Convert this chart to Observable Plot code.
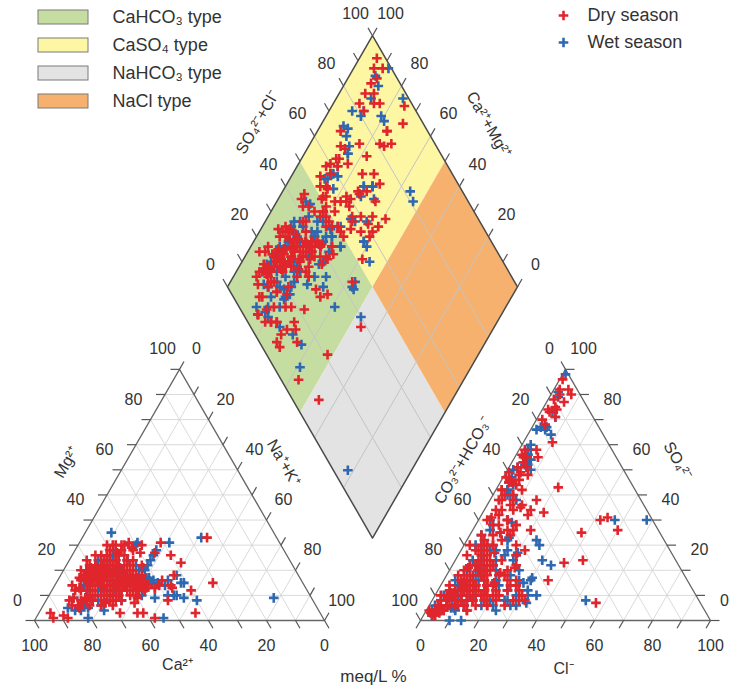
<!DOCTYPE html>
<html><head><meta charset="utf-8">
<script src="https://cdn.jsdelivr.net/npm/d3@7"></script>
<script src="https://cdn.jsdelivr.net/npm/@observablehq/plot@0.6"></script>
<style>body{margin:0;background:#fff}</style>
</head><body><div id="chart"></div>
<script>
// ---------- DATA (meq/L %), each sample: [Ca2+, Mg2+, Cl-, SO4 2-] ----------
// Na++K+ = 100 - Ca - Mg ; CO3 2- + HCO3- = 100 - Cl - SO4
const drySamples = [
[80,14,1,96],[76,17,2,92],[72,18,7,90],[70,20,3,90],[78,13,2,88],[68,20,4,85],[65,19,5,84],[70,21,2,84],
[64,22,6,81],[60,16,3,83],[58,17,5,92],[45,27,6,87],[60,14,42,40],[57,15,44,41],[62,14,50,36],[70,18,4,78],
[74,17,2,80],[74,18,2,68],[70,19,4,63],[72,17,1,59],[68,18,6,56],[57,30,3,55],[52,31,8,58],[69,18,2,66],
[70,18,5,58],[72,18,1,57],[73,17,4,50],[68,17,2,52],[66,19,3,48],[64,19,6,68],[58,18,10,71],[62,16,21,53],
[60,15,16,44],[57,16,21,43],[60,16,4,65],[41,31,8,65],[54,14,38,35],[56,15,6,61],[46,13,44,24],[40,26,3,65],
[43,18,38,23],[48,16,9,52],[38,23,4,55],[46,14,57,7],[72,16,4,48],[70,16,2,52],[70,22,3,40],[68,22,8,34],
[66,22,6,38],[62,24,10,30],[60,22,4,44],[58,22,12,36],[56,22,14,34],[64,26,5,28],[66,26,2,30],[70,24,3,26],
[72,20,6,22],[62,26,9,22],[60,24,12,18],[56,26,14,20],[54,24,18,18],[52,22,20,18],[74,20,4,18],[72,18,5,20],
[68,20,8,16],[66,18,10,14],[62,20,12,14],[60,18,14,12],[58,16,16,14],[76,16,3,14],[74,14,4,12],[70,16,6,10],
[66,16,8,8],[64,14,9,10],[62,12,10,8],[80,12,2,10],[82,5,3,6],[74,12,4,6],[70,12,5,4],[66,14,6,6],
[76,8,1,4],[78,6,2,3],[84,8,4,10],[76,8,3,2],[72,8,4,2],[68,10,5,3],[93,3,6,12],[93,1,8,12],
[89,2,6,10],[69,3,4,2],[62,10,5,4],[58,12,3,3],[58,13,6,6],[52,13,7,6],[24,33,3,3],[40,12,8,13],
[31,15,4,5],[43,3,30,8],[58,1,36,16],[50,8,22,22],[56,13,10,44],[52,13,12,45],[55,13,6,54],[50,14,16,48],
[60,14,5,59],[66,19,10,35],[62,16,14,38],[62,16,8,48],[61,16,3,56],[57,14,7,50],[68,19,3,61],[72,20,4,41],
[66,21,12,27],[67,20,8,26],[70,18,6,21],[72,16,7,15],[68,17,8,14],[70,15,6,11],[74,15,5,11],[78,12,3,8],
[62,20,10,22],[62,19,14,22],[60,18,16,24],[59,18,12,22],[56,16,18,19],[56,15,20,20],[55,15,22,21],[70,16,5,9],
[66,16,6,10],[64,15,9,12],[63,3,16,14],[61,3,18,15],[88,1,10,8],
[70,20,10,12],[66,22,12,10],[64,24,14,8],[62,26,8,14],[72,18,12,6],[68,22,6,18],[60,28,10,16],[58,30,12,14],
[64,20,16,10],[62,22,18,8],[60,24,20,6],[74,16,14,4],[70,14,16,6],[68,16,18,10],[66,18,20,12],[64,20,22,10],
[72,14,10,20],[70,12,12,24],[68,14,8,28],[66,12,6,32],[76,10,8,16],[78,8,10,12],[80,8,12,8],[82,6,14,4],
[74,10,18,8],[72,10,20,6],[70,10,22,10],[68,12,24,12],[66,10,26,14],[64,12,28,8],[62,14,25,16],[60,12,30,10],
[76,12,16,10],[74,18,8,22],[72,16,9,18],[68,18,12,20],[64,18,10,26],[62,18,8,30],[66,20,14,18],[70,20,16,14],
[58,26,16,12],[56,28,18,10],[54,30,14,16],[52,28,12,20],[56,24,10,24],[60,20,6,30],[62,22,4,34],[58,20,8,38],
[56,20,6,42],[54,18,12,32],[84,6,10,14],[80,7,12,12],[76,8,14,10],[72,7,16,12],[70,6,18,14],[66,8,20,10],
[62,7,22,8],[60,9,12,10],[82,9,6,16],[78,9,8,18],[74,6,10,20],[68,8,14,16],[60,30,8,24],[55,30,10,20],
[52,29,12,18],[48,30,14,22],[50,27,10,30],[58,27,6,28],
[66,19,10,40],[64,20,14,38],[62,18,8,46],[60,16,12,46],[58,16,16,42],[56,14,20,36],[54,16,14,36],[58,14,10,40],
[62,20,18,30],[64,18,6,44],[60,22,20,26],[56,18,22,28],[70,8,4,4],[66,10,6,4],[62,14,10,6],[60,10,8,8],
[56,12,9,6],[64,12,4,6],[64,16,24,14],[62,14,28,12],[66,14,26,6],[60,16,32,8],[68,12,22,16]
];
const wetSamples = [
[66,22,1,98],[72,19,2,91],[70,18,3,89],[68,20,4,83],[70,18,5,77],[60,21,6,81],[72,20,2,76],[68,20,3,77],
[62,15,58,40],[60,19,47,40],[72,18,3,70],[72,20,4,68],[68,18,4,66],[66,19,8,60],[70,17,3,55],[68,18,2,60],
[66,20,5,54],[56,17,4,63],[54,16,6,64],[41,15,8,74],[44,9,5,76],[55,16,4,52],[50,15,53,8],[48,14,26,30],
[46,10,30,24],[47,10,35,10],[55,1,31,12],[40,8,33,7],[26,33,25,8],[38,31,30,17],[13,9,3,2],[68,20,5,50],
[64,20,3,57],[64,19,6,50],[66,22,10,35],[57,16,12,39],[60,16,14,33],[64,22,8,22],[56,35,5,10],[52,21,16,20],
[42,15,28,15],[46,16,24,32],[42,18,34,22],[53,16,9,48],[53,17,4,66],[56,16,3,61],[51,16,5,63],[79,5,3,2],
[66,8,6,4],[58,10,8,5],[54,9,9,5],[49,10,5,4],[52,15,18,15],[56,17,12,16],[70,13,5,8],[64,14,7,10],
[62,15,8,12],[66,19,6,62],[70,19,3,68],[68,19,4,52],[57,16,5,62],[53,17,6,64],[52,17,20,27],[72,18,4,30],
[68,20,6,24],[64,22,10,20],[60,22,14,22],[62,18,12,14],[70,14,6,12],[66,14,9,10],[74,14,4,16],[76,12,3,10],
[74,8,2,6],[82,4,2,4],[82,9,8,10],[56,24,16,26],[54,20,20,26],[60,26,6,36],[66,24,4,40],[58,28,8,30],
[49,31,10,28],[74,4,10,8],[81,1,12,6],[64,16,4,4],[70,12,10,0],[66,12,14,0],
[76,10,12,8],[72,12,14,10],[70,8,16,12],[68,10,18,6],[74,6,20,8],[78,8,8,6],[80,6,10,4],[84,4,12,6],
[86,5,14,8],[62,24,12,18],[60,26,10,22],[64,24,16,12],[66,22,18,16],[58,26,20,14],[56,24,22,18],[54,22,24,20],
[52,20,26,16],[50,22,20,24],[60,18,24,12],[62,16,26,8],[64,14,22,6],[58,14,28,10],[56,12,30,6],[66,20,8,26],
[68,22,6,30],[70,18,4,34],[64,18,12,28],[62,20,6,38],[60,20,14,32],[58,16,10,40],[48,24,16,28],[46,26,14,24],
[44,28,12,20],[50,30,10,18],[74,16,6,20],[72,16,8,16],[70,16,10,14],[76,14,6,14],[68,14,12,10],[66,12,14,8],
[62,18,26,14],[60,14,30,16],[58,18,32,10],[64,14,28,6],[66,16,24,4]
];
const seasons = ["Dry season", "Wet season"];
const seasonColors = ["#e0262c", "#2e68b0"];
const regionNames = ["CaHCO₃ type", "CaSO₄ type", "NaHCO₃ type", "NaCl type"];
const regionColors = ["#c6dda2", "#fdf6a3", "#e3e3e3", "#f5b16d"];
// region extents in diamond coordinates [SO4+Cl from, to, Ca+Mg from, to]
const regionExtents = [[0,50,50,100],[50,100,50,100],[0,50,0,50],[50,100,0,50]];
const tickValues = [0,10,20,30,40,50,60,70,80,90,100];
const labelValues = [0,20,40,60,80,100];
const diamondGridValues = [20,40,60,80];

// ---------- LAYOUT ----------
const S = 290, H = S * Math.sqrt(3) / 2, R3 = Math.sqrt(3) / 2;
const CAT = [34, 620], AN = [420, 620], DIA = [372, 537.5];
const cat = (ca, mg) => { const nak = 100 - ca - mg; return [CAT[0] + S * (nak + mg / 2) / 100, CAT[1] - H * mg / 100]; };
const an = (cl, so4) => [AN[0] + S * (cl + so4 / 2) / 100, AN[1] - H * so4 / 100];
const dia = (s, c) => [DIA[0] + S / 2 * (s - c) / 100, DIA[1] - H * (s + c) / 100];
const seg = (a, b) => ({x1: a[0], y1: a[1], x2: b[0], y2: b[1]});
const TL = 9;
const tickSeg = (p, d) => seg(p, [p[0] + d[0] * TL, p[1] + d[1] * TL]);
const lab = (p, off, v) => ({x: p[0] + off[0], y: p[1] + off[1], text: String(v)});

// points
const points = [];
[[1, wetSamples], [0, drySamples]].forEach(([k, arr]) => {
  for (const [ca, mg, cl, so4] of arr) {
    for (const [x, y] of [cat(ca, mg), an(cl, so4), dia(cl + so4, ca + mg)]) points.push({x, y, color: seasonColors[k]});
  }
});

// diamond regions
const regionPolys = regionExtents.map(([s0, s1, c0, c1]) => [dia(s0, c0), dia(s1, c0), dia(s1, c1), dia(s0, c1), dia(s0, c0)].map(([x, y]) => ({x, y})));

// grids
const triGrid = [];
for (const v of tickValues.slice(1, -1)) {
  triGrid.push(seg(cat(100 - v, v), cat(0, v)));
  triGrid.push(seg(cat(100 - v, 0), cat(0, 100 - v)));
  triGrid.push(seg(cat(v, 0), cat(v, 100 - v)));
  triGrid.push(seg(an(0, v), an(100 - v, v)));
  triGrid.push(seg(an(v, 0), an(v, 100 - v)));
  triGrid.push(seg(an(100 - v, 0), an(0, 100 - v)));
}
const diaGrid = [];
for (const v of diamondGridValues) { diaGrid.push(seg(dia(v, 0), dia(v, 100))); diaGrid.push(seg(dia(0, v), dia(100, v))); }

// outlines
const toXY = arr => arr.map(([x, y]) => ({x, y}));
const catOutline = toXY([cat(100, 0), cat(0, 0), cat(0, 100), cat(100, 0)]);
const anOutline = toXY([an(0, 0), an(100, 0), an(0, 100), an(0, 0)]);
const diaOutline = toXY([dia(0, 0), dia(100, 0), dia(100, 100), dia(0, 100), dia(0, 0)]);

// ticks + labels
const ticks = [], labels = [];
for (const v of tickValues) {
  ticks.push(tickSeg(cat(v, 0), [0.5, R3]));            // Ca (bottom)
  ticks.push(tickSeg(cat(100 - v, v), [-1, 0]));         // Mg (left)
  ticks.push(tickSeg(cat(0, 100 - v), [0.5, -R3]));     // Na+K (right)
  ticks.push(tickSeg(an(v, 0), [-0.5, R3]));             // Cl (bottom)
  ticks.push(tickSeg(an(0, 100 - v), [-0.5, -R3]));     // HCO3 (left)
  ticks.push(tickSeg(an(100 - v, v), [1, 0]));           // SO4 (right)
  ticks.push(tickSeg(dia(v, 100), [-0.5, -R3]));        // SO4+Cl
  ticks.push(tickSeg(dia(100, v), [0.5, -R3]));         // Ca+Mg
}
for (const v of labelValues) {
  labels.push(lab(cat(v, 0), [0, 25], v));
  labels.push(lab(cat(100 - v, v), [-17, -20], v));
  labels.push(lab(cat(0, 100 - v), [17, -20], v));
  labels.push(lab(an(v, 0), [0, 25], v));
  labels.push(lab(an(0, 100 - v), [-16, -20], v));
  labels.push(lab(an(100 - v, v), [v === 0 ? 14 : 18, -20], v));
  labels.push(lab(dia(v, 100), [-17, -22], v));
  labels.push(lab(dia(100, v), [18, -22], v));
}
const titles = [
  {x: 257, y: 122, text: "SO₄²⁻+Cl⁻", rotate: -60},
  {x: 488, y: 124, text: "Ca²⁺+Mg²⁺", rotate: 60},
  {x: 66, y: 462, text: "Mg²⁺", rotate: -60},
  {x: 283, y: 462, text: "Na⁺+K⁺", rotate: 60},
  {x: 177, y: 664, text: "Ca²⁺", rotate: 0},
  {x: 462, y: 460, text: "CO₃²⁻+HCO₃⁻", rotate: -60},
  {x: 677, y: 460, text: "SO₄²⁻", rotate: 60},
  {x: 563, y: 668, text: "Cl⁻", rotate: 0}
];
const regionLegend = regionNames.map((name, i) => ({name, color: regionColors[i], y: 17 + i * 28}));
const seasonLegend = seasons.map((name, i) => ({name, color: seasonColors[i], y: 15 + i * 27}));

const FONT = "Liberation Sans, Arial, Helvetica, sans-serif";
const MR = 3.2; // plus marker radius (≈10 px across)
const chart = Plot.plot({
  width: 730, height: 689, margin: 0,
  x: {domain: [0, 730], range: [0, 730], axis: null},
  y: {domain: [0, 689], range: [0, 689], axis: null},
  color: {type: "identity"},
  style: {fontFamily: FONT, background: "#fff"},
  marks: [
    ...regionPolys.map((poly, i) => Plot.line(poly, {x: "x", y: "y", fill: regionColors[i], stroke: "none"})),
    Plot.link(diaGrid, {x1: "x1", y1: "y1", x2: "x2", y2: "y2", stroke: "#c4c4c4", strokeWidth: 1}),
    Plot.link(triGrid, {x1: "x1", y1: "y1", x2: "x2", y2: "y2", stroke: "#d6d6d6", strokeWidth: 0.9}),
    Plot.line(diaOutline, {x: "x", y: "y", stroke: "#4a4a4a", strokeWidth: 1.5}),
    Plot.line(catOutline, {x: "x", y: "y", stroke: "#666", strokeWidth: 1.3}),
    Plot.line(anOutline, {x: "x", y: "y", stroke: "#666", strokeWidth: 1.3}),
    Plot.link(ticks, {x1: "x1", y1: "y1", x2: "x2", y2: "y2", stroke: "#555", strokeWidth: 1.2}),
    Plot.text(labels, {x: "x", y: "y", text: "text", fontSize: 16, fill: "#333", fontFamily: FONT}),
    Plot.text(titles, {x: "x", y: "y", text: "text", rotate: d => d.rotate, fontSize: 16, fill: "#333", fontFamily: FONT}),
    Plot.text(["meq/L %"], {x: () => 373, y: () => 676, text: d => d, fontSize: 17, fill: "#333", fontFamily: FONT}),
    Plot.dot(points, {x: "x", y: "y", symbol: "plus", r: MR, stroke: "color", strokeWidth: 2.6}),
    Plot.rect(regionLegend, {x1: () => 38, x2: () => 88, y1: d => d.y - 7, y2: d => d.y + 7, fill: "color", stroke: "#7a7a7a", strokeWidth: 1}),
    Plot.text(regionLegend, {x: () => 112, y: "y", text: "name", textAnchor: "start", fontSize: 18, fill: "#333", fontFamily: FONT}),
    Plot.dot(seasonLegend, {x: () => 563, y: "y", symbol: "plus", r: MR, stroke: "color", strokeWidth: 2.6}),
    Plot.text(seasonLegend, {x: () => 587, y: "y", text: "name", textAnchor: "start", fontSize: 18, fill: "#333", fontFamily: FONT})
  ]
});
document.getElementById("chart").appendChild(chart);
</script>
</body></html>
